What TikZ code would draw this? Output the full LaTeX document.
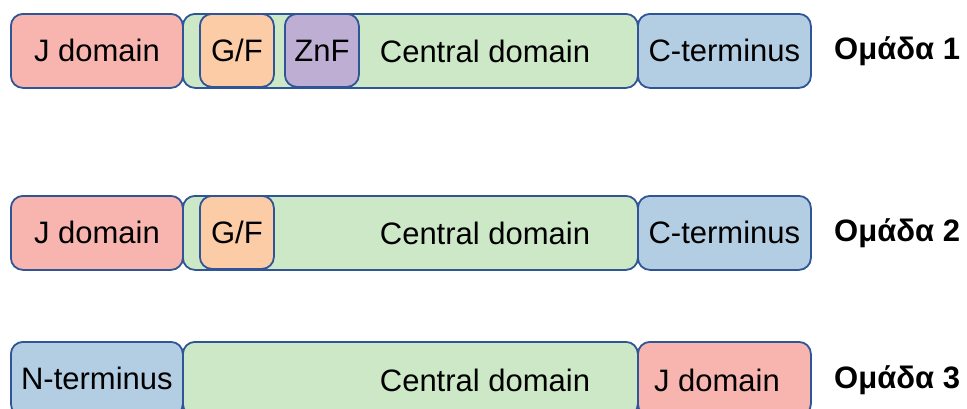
\documentclass[tikz,border=0pt]{standalone}
\usepackage{fontspec}
\setmainfont{Liberation Sans}
\definecolor{bordc}{HTML}{2F5597}
\definecolor{jpink}{HTML}{F8B5AF}
\definecolor{cgreen}{HTML}{CCE8C6}
\definecolor{tblue}{HTML}{B3CDE3}
\definecolor{gforange}{HTML}{FCCCA6}
\definecolor{znpurple}{HTML}{BEAED4}
\tikzset{
  dombox/.style={draw=bordc, line width=1.8pt, rounded corners=12pt, anchor=north west,
    minimum height=74pt, inner sep=0pt, font=\fontsize{31}{36}\selectfont},
  domtext/.style={inner sep=0pt, font=\fontsize{31}{36}\selectfont},
  grouplabel/.style={inner sep=0pt, font=\fontsize{31}{36}\selectfont\bfseries, anchor=west}
}
\begin{document}
\begin{tikzpicture}[x=1pt,y=-1pt]
\clip (0,0) rectangle (967,408);
\fill[white] (0,0) rectangle (967,408);
% Row 1
\node[dombox, fill=cgreen, minimum width=455pt] (c1) at (182,13) {};
\node[dombox, fill=gforange, minimum width=74pt, minimum height=73pt] (gf1) at (199,13) {G/F};
\node[dombox, fill=znpurple, minimum width=74pt, minimum height=73pt] (zn1) at (284,13) {ZnF};
\node[domtext] (ct1) at (485,51) {Central domain};
\node[dombox, fill=jpink, minimum width=172pt] (j1) at (10,13) {J domain};
\node[dombox, fill=tblue, minimum width=173pt] (t1) at (637,13) {C-terminus};
\node[grouplabel] (g1) at (834,51) {Ομάδα 1};
% Row 2
\node[dombox, fill=cgreen, minimum width=455pt] (c2) at (182,195) {};
\node[dombox, fill=gforange, minimum width=74pt, minimum height=73pt] (gf2) at (199,195) {G/F};
\node[domtext] (ct2) at (485,233) {Central domain};
\node[dombox, fill=jpink, minimum width=172pt] (j2) at (10,195) {J domain};
\node[dombox, fill=tblue, minimum width=173pt] (t2) at (637,195) {C-terminus};
\node[grouplabel] (g2) at (834,233) {Ομάδα 2};
% Row 3
\node[dombox, fill=cgreen, minimum width=455pt] (c3) at (182,341) {};
\node[domtext] (ct3) at (485,380) {Central domain};
\node[dombox, fill=tblue, minimum width=172pt] (n3) at (10,341) {\raisebox{-1pt}{N-terminus}};
\node[dombox, fill=jpink, minimum width=173pt] (j3) at (637,341) {};
\node[domtext] (jt3) at (717,380) {J domain};
\node[grouplabel] (g3) at (834,380) {Ομάδα 3};
\end{tikzpicture}
\end{document}
